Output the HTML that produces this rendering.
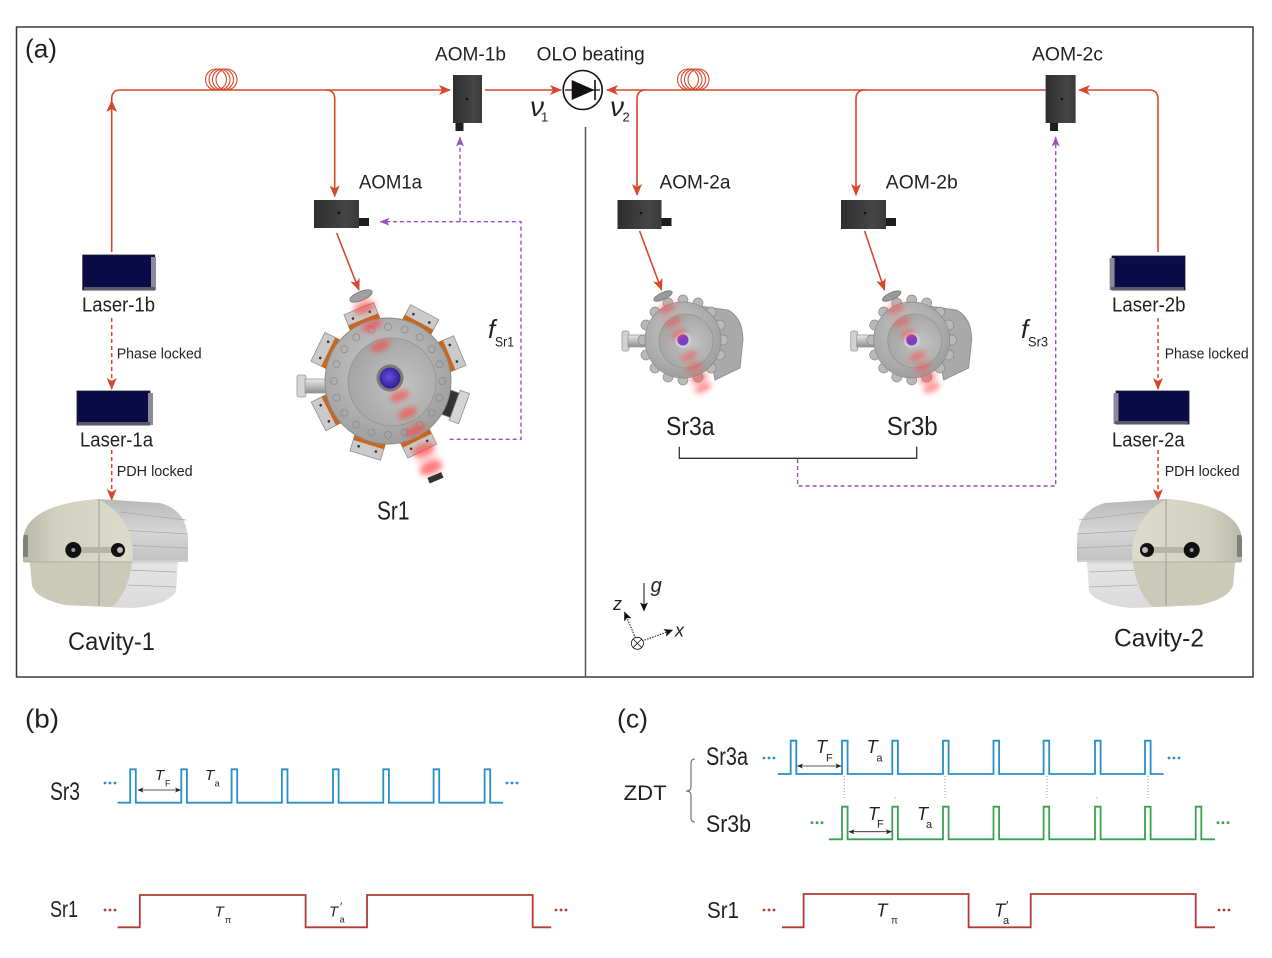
<!DOCTYPE html>
<html><head><meta charset="utf-8"><style>
html,body{margin:0;padding:0;background:#fff;}
svg{display:block;}
text{font-family:"Liberation Sans",sans-serif;fill:#231f20;}
.it{font-style:italic;}
</style></head><body>
<svg width="1272" height="958" viewBox="0 0 1272 958" xmlns="http://www.w3.org/2000/svg">
<defs>
 <marker id="ar" viewBox="0 0 12 10" markerWidth="12" markerHeight="10" refX="11" refY="5" orient="auto" markerUnits="userSpaceOnUse"><path d="M0,0 L12,5 L0,10 L3,5 Z" fill="#d9472b"/></marker>
 <marker id="ap" viewBox="0 0 10 8" markerWidth="10" markerHeight="8" refX="9.5" refY="4" orient="auto" markerUnits="userSpaceOnUse"><path d="M0,0 L10,4 L0,8 L2.5,4 Z" fill="#9b4fb8"/></marker>
 <marker id="ak" viewBox="0 0 6 5" markerWidth="6" markerHeight="5" refX="5.5" refY="2.5" orient="auto-start-reverse" markerUnits="userSpaceOnUse"><path d="M0,0 L6,2.5 L0,5 L1.5,2.5 Z" fill="#222"/></marker>
 <marker id="ax" viewBox="0 0 9 8" markerWidth="9" markerHeight="8" refX="8.5" refY="4" orient="auto" markerUnits="userSpaceOnUse"><path d="M0,0 L9,4 L0,8 L2,4 Z" fill="#111"/></marker>
 <filter id="bl" x="-50%" y="-50%" width="200%" height="200%"><feGaussianBlur stdDeviation="2.6"/></filter>
 <filter id="bl2" x="-50%" y="-50%" width="200%" height="200%"><feGaussianBlur stdDeviation="4"/></filter>
 <radialGradient id="diskG" cx="0.45" cy="0.4" r="0.65"><stop offset="0" stop-color="#c9c9c9"/><stop offset="1" stop-color="#9c9c9c"/></radialGradient>
 <radialGradient id="recG" cx="0.6" cy="0.55" r="0.6"><stop offset="0" stop-color="#c4c4c4"/><stop offset="1" stop-color="#a4a4a4"/></radialGradient>
 <radialGradient id="winG" cx="0.45" cy="0.45" r="0.6"><stop offset="0" stop-color="#6a4ee0"/><stop offset="1" stop-color="#2a1a8a"/></radialGradient>
 <linearGradient id="tubeG" x1="0" y1="0" x2="0" y2="1"><stop offset="0" stop-color="#e8e8e8"/><stop offset="0.5" stop-color="#bdbdbd"/><stop offset="1" stop-color="#8d8d8d"/></linearGradient>
 <linearGradient id="cavB" x1="0" y1="0" x2="0" y2="1"><stop offset="0" stop-color="#b8b8b8"/><stop offset="0.3" stop-color="#d6d6d6"/><stop offset="0.55" stop-color="#c2c2c2"/><stop offset="0.6" stop-color="#e4e4e4"/><stop offset="1" stop-color="#dadada"/></linearGradient>
 <linearGradient id="cavF" x1="0" y1="0" x2="1" y2="0"><stop offset="0" stop-color="#b9b8aa"/><stop offset="0.3" stop-color="#d2d0c0"/><stop offset="1" stop-color="#dddbcc"/></linearGradient>
 <linearGradient id="aomG" x1="0" y1="0" x2="1" y2="0"><stop offset="0" stop-color="#2e2e2e"/><stop offset="0.7" stop-color="#454545"/><stop offset="1" stop-color="#3a3a3a"/></linearGradient>
 <clipPath id="cf1"><path d="M23,562 L23,540 Q25,505 98,499 Q130,515 133,552 Q131,590 112,607 L65,605 Q35,598 32,585 L30,562 Z"/></clipPath>

 <g id="cav">
  <path d="M23,562 L23,540 Q25,505 98,499 L160,503 Q187,510 188,540 L188,562 L178,562 L176,592 Q165,606 132,608 L65,605 Q35,598 32,585 L30,562 Z" fill="url(#cavB)"/>
  <path d="M120,512 L186,520 M118,530 L188,534 M122,545 L188,548 M125,570 L176,572 M128,585 L176,587" stroke="#a8a8a8" stroke-width="0.8" fill="none"/>
  <path d="M23,562 L23,540 Q25,505 98,499 Q130,515 133,552 Q131,590 112,607 L65,605 Q35,598 32,585 L30,562 Z" fill="url(#cavF)"/>
  <g clip-path="url(#cf1)"><rect x="20" y="562" width="120" height="50" fill="#cbc9b8"/><rect x="20" y="535" width="8" height="22" fill="#5a5a56" opacity="0.6"/></g>
  <line x1="99" y1="499" x2="99" y2="606" stroke="#9e9c8c" stroke-width="1"/>
  <line x1="24" y1="562" x2="132" y2="562" stroke="#a9a795" stroke-width="0.8"/>
  <rect x="74" y="547" width="44" height="6" fill="#b5b4a6"/>
  <circle cx="73.3" cy="550" r="8" fill="#111"/><circle cx="73.3" cy="550" r="2" fill="#999"/>
  <circle cx="118" cy="550" r="7" fill="#111"/><circle cx="120" cy="550" r="3" fill="#bbb"/>
 </g>

 <g id="sr3">
  <line x1="663" y1="300" x2="703" y2="387" stroke="#ff7070" stroke-width="12" opacity="0.3" filter="url(#bl2)"/>
  <rect x="622" y="331" width="7" height="20" rx="2" fill="#d2d2d2" stroke="#999" stroke-width="0.8"/>
  <rect x="628" y="335" width="20" height="12" fill="url(#tubeG)" stroke="#999" stroke-width="0.8"/>
  <path d="M700,306 L728,310 Q743,318 743,340 L740,368 L715,380 Z" fill="#a9a9a9" stroke="#8a8a8a" stroke-width="0.8"/>
  <g fill="#b9b9b9" stroke="#8a8a8a" stroke-width="0.7">
   <circle cx="723" cy="340" r="5"/><circle cx="720" cy="355" r="5"/><circle cx="711" cy="368" r="5"/><circle cx="698" cy="377" r="5"/><circle cx="683" cy="380" r="5"/><circle cx="668" cy="377" r="5"/><circle cx="655" cy="368" r="5"/><circle cx="646" cy="355" r="5"/><circle cx="643" cy="340" r="5"/><circle cx="646" cy="325" r="5"/><circle cx="655" cy="312" r="5"/><circle cx="668" cy="303" r="5"/><circle cx="683" cy="300" r="5"/><circle cx="698" cy="303" r="5"/><circle cx="711" cy="312" r="5"/><circle cx="720" cy="325" r="5"/>
  </g>
  <circle cx="683" cy="340" r="38" fill="url(#diskG)" stroke="#8d8d8d" stroke-width="0.8"/>
  <circle cx="686" cy="341" r="27" fill="url(#recG)" stroke="#959595" stroke-width="0.8"/>
  <circle cx="683" cy="340" r="8" fill="#cfcfcf"/>
  <circle cx="683" cy="340" r="5.5" fill="#7a3ec8"/>
  <g fill="#ff4a4a" opacity="0.55" filter="url(#bl)">
   <ellipse cx="667" cy="309" rx="9" ry="4" transform="rotate(-24.7 667 309)"/>
   <ellipse cx="673" cy="322" rx="9" ry="4" transform="rotate(-24.7 673 322)"/>
   <ellipse cx="679" cy="334" rx="8" ry="4" transform="rotate(-24.7 679 334)"/>
   <ellipse cx="689" cy="356" rx="9" ry="4" transform="rotate(-24.7 689 356)"/>
   <ellipse cx="694" cy="367" rx="9" ry="4" transform="rotate(-24.7 694 367)"/>
   <ellipse cx="699" cy="378" rx="9" ry="4" transform="rotate(-24.7 699 378)"/>
   <ellipse cx="703" cy="388" rx="9" ry="4" transform="rotate(-24.7 703 388)"/>
  </g>
  <ellipse cx="663" cy="296" rx="10" ry="3.5" fill="#9a9a9a" stroke="#777" stroke-width="0.8" transform="rotate(-24.7 663 296)"/>
 </g>

 <g id="port">
  <rect x="61" y="-16" width="17" height="32" fill="#cacaca" stroke="#8f8f8f" stroke-width="0.8"/>
  <rect x="61.5" y="-16" width="5" height="32" fill="#c8671d"/>
  <circle cx="71" cy="-9" r="1.3" fill="#333"/><circle cx="71" cy="9" r="1.3" fill="#333"/>
 </g>
</defs>

<!-- frame -->
<rect x="16.5" y="27" width="1236.5" height="650" fill="none" stroke="#3a3a3a" stroke-width="1.5"/>
<line x1="585.5" y1="127" x2="585.5" y2="677" stroke="#555" stroke-width="1.5"/>

<!-- red optical paths -->
<g fill="none" stroke="#d9472b" stroke-width="1.6">
 <path d="M111.7,252 V99 Q111.7,90 120,90 H450" marker-end="url(#ar)"/>
 <path d="M326,90 Q334.7,90 334.7,99 V196.5" marker-end="url(#ar)"/>
 <path d="M485,90 H561" marker-end="url(#ar)"/>
 <path d="M1045.6,90 H607" marker-end="url(#ar)"/>
 <path d="M646,90 Q637,90 637,99 V195" marker-end="url(#ar)"/>
 <path d="M865,90 Q856,90 856,99 V195" marker-end="url(#ar)"/>
 <path d="M1158,252 V99 Q1158,90 1149,90 H1079" marker-end="url(#ar)"/>
 <path d="M336.7,233 L359,290" marker-end="url(#ar)"/>
 <path d="M639.6,231 L661.6,290" marker-end="url(#ar)"/>
 <path d="M864.6,231 L884.5,290" marker-end="url(#ar)"/>
 <g stroke-width="1.1">
  <circle cx="216" cy="79.5" r="10.5"/><circle cx="219.5" cy="79.5" r="10.5"/><circle cx="223" cy="79.5" r="10.5"/><circle cx="226.5" cy="79.5" r="10.5"/>
  <circle cx="688" cy="79.5" r="10.5"/><circle cx="691.5" cy="79.5" r="10.5"/><circle cx="695" cy="79.5" r="10.5"/><circle cx="698.5" cy="79.5" r="10.5"/>
 </g>
</g>
<polygon points="111.7,100 106.2,112 111.7,109 117.2,112" fill="#d9472b"/>

<!-- red dashed lock lines -->
<g fill="none" stroke="#d9472b" stroke-width="1.5" stroke-dasharray="4,3">
 <path d="M111.7,318 V389" marker-end="url(#ar)"/>
 <path d="M111.7,450 V500" marker-end="url(#ar)"/>
 <path d="M1158,318 V389" marker-end="url(#ar)"/>
 <path d="M1158,450 V500" marker-end="url(#ar)"/>
</g>

<!-- purple dashed -->
<g fill="none" stroke="#9b4fb8" stroke-width="1.4" stroke-dasharray="4,3">
 <path d="M449.7,439.3 H521 V221.7 H380" marker-end="url(#ap)"/>
 <path d="M460,221.7 V137" marker-end="url(#ap)"/>
 <path d="M797.6,459 V486 H1055.7 V137" marker-end="url(#ap)"/>
</g>

<!-- bracket -->
<path d="M679.3,446.7 V458.3 H916.7 V446.7" fill="none" stroke="#333" stroke-width="1.3"/>

<!-- photodiode -->
<circle cx="582.7" cy="90" r="19.5" fill="#fff" stroke="#111" stroke-width="1.6"/>
<line x1="565" y1="90" x2="600" y2="90" stroke="#111" stroke-width="1.3"/>
<polygon points="571.7,80 571.7,100 594.5,90" fill="#111"/>
<line x1="595" y1="80" x2="595" y2="100" stroke="#111" stroke-width="1.6"/>

<!-- AOMs -->
<g>
 <rect x="453" y="75" width="29" height="48" fill="url(#aomG)"/><rect x="455.5" y="123" width="8" height="8" fill="#1e1e1e"/><circle cx="467" cy="99" r="1.3" fill="#111"/>
 <rect x="1045.6" y="75" width="30" height="48" fill="url(#aomG)"/><rect x="1050" y="123" width="8" height="8" fill="#1e1e1e"/><circle cx="1062" cy="99" r="1.3" fill="#111"/>
 <rect x="314" y="200" width="45" height="28" fill="url(#aomG)"/><rect x="359" y="218" width="10" height="8" fill="#1e1e1e"/><circle cx="338.8" cy="212.7" r="1.3" fill="#111"/>
 <rect x="617.5" y="200" width="44" height="29" fill="url(#aomG)"/><rect x="661.5" y="218" width="10" height="8" fill="#1e1e1e"/><circle cx="641" cy="213" r="1.3" fill="#111"/>
 <rect x="841" y="200" width="45" height="29" fill="url(#aomG)"/><rect x="886" y="218" width="10" height="8" fill="#1e1e1e"/><circle cx="865" cy="213" r="1.3" fill="#111"/>
</g>

<!-- lasers -->
<g stroke="#1a1a2a" stroke-width="0.8">
 <rect x="82.7" y="255" width="72" height="35" fill="#0b0b48"/><rect x="151" y="257" width="5" height="33" fill="#8a8a98" stroke="none"/><rect x="84" y="287" width="71" height="3" fill="#5a5a6a" stroke="none"/>
 <rect x="77" y="391" width="73" height="34" fill="#0b0b48"/><rect x="148" y="393" width="5" height="32" fill="#8a8a98" stroke="none"/><rect x="78" y="422" width="72" height="3" fill="#5a5a6a" stroke="none"/>
 <rect x="1112" y="256" width="73" height="34" fill="#0b0b48"/><rect x="1109.6" y="258" width="5" height="32" fill="#8a8a98" stroke="none"/><rect x="1111" y="287" width="73" height="3" fill="#5a5a6a" stroke="none"/>
 <rect x="1116" y="391" width="73" height="33" fill="#0b0b48"/><rect x="1113.5" y="393" width="5" height="31" fill="#8a8a98" stroke="none"/><rect x="1115" y="421" width="73" height="3" fill="#5a5a6a" stroke="none"/>
</g>

<!-- cavities -->
<use href="#cav"/>
<use href="#cav" transform="translate(1265,0) scale(-1,1)"/>

<!-- Sr1 chamber -->
<g>
 <line x1="360" y1="298" x2="432" y2="470" stroke="#ff6a6a" stroke-width="18" opacity="0.35" filter="url(#bl2)"/>
 <rect x="297" y="375" width="9" height="22" rx="2" fill="#d6d6d6" stroke="#999" stroke-width="0.8"/>
 <rect x="305" y="379" width="30" height="14" fill="url(#tubeG)" stroke="#999" stroke-width="0.8"/>
 <g transform="translate(388,381)">
  <use href="#port" transform="rotate(-112)"/>
  <use href="#port" transform="rotate(-62)"/>
  <use href="#port" transform="rotate(-23)"/>
  <g transform="rotate(20)" stroke="#8f8f8f" stroke-width="0.8"><rect x="60" y="-13" width="12" height="26" fill="#333"/><rect x="71" y="-16" width="10" height="32" fill="#d4d4d4"/></g>
  <use href="#port" transform="rotate(64)"/>
  <use href="#port" transform="rotate(107)"/>
  <use href="#port" transform="rotate(153)"/>
  <use href="#port" transform="rotate(-154)"/>
 </g>
 <circle cx="388" cy="381" r="63" fill="url(#diskG)" stroke="#8a8a8a" stroke-width="0.9"/>
 <g fill="none" stroke="#8d8d8d" stroke-width="0.8">
  <circle cx="442" cy="381" r="3.5"/><circle cx="439.4" cy="397.7" r="3.5"/><circle cx="431.7" cy="412.8" r="3.5"/><circle cx="419.7" cy="424.7" r="3.5"/><circle cx="404.7" cy="432.4" r="3.5"/><circle cx="388" cy="435" r="3.5"/><circle cx="371.3" cy="432.4" r="3.5"/><circle cx="356.3" cy="424.7" r="3.5"/><circle cx="344.3" cy="412.8" r="3.5"/><circle cx="336.6" cy="397.7" r="3.5"/><circle cx="334" cy="381" r="3.5"/><circle cx="336.6" cy="364.3" r="3.5"/><circle cx="344.3" cy="349.2" r="3.5"/><circle cx="356.3" cy="337.3" r="3.5"/><circle cx="371.3" cy="329.6" r="3.5"/><circle cx="388" cy="327" r="3.5"/><circle cx="404.7" cy="329.6" r="3.5"/><circle cx="419.7" cy="337.3" r="3.5"/><circle cx="431.7" cy="349.2" r="3.5"/><circle cx="439.4" cy="364.3" r="3.5"/>
 </g>
 <circle cx="392" cy="382" r="44" fill="url(#recG)" stroke="#949494" stroke-width="0.8"/>
 <circle cx="390" cy="378" r="13.5" fill="#7a7a7a"/>
 <circle cx="390" cy="378" r="10.5" fill="url(#winG)"/>
 <g fill="#ff4040" opacity="0.6" filter="url(#bl)">
  <ellipse cx="364.3" cy="308.3" rx="11" ry="5" transform="rotate(-22.7 364.3 308.3)"/>
  <ellipse cx="371.5" cy="325.5" rx="11" ry="5" transform="rotate(-22.7 371.5 325.5)"/>
  <ellipse cx="380.2" cy="346.2" rx="10" ry="5" transform="rotate(-22.7 380.2 346.2)"/>
  <ellipse cx="399.6" cy="396" rx="10" ry="5" transform="rotate(-22.7 399.6 396)"/>
  <ellipse cx="407.5" cy="413" rx="10" ry="5" transform="rotate(-22.7 407.5 413)"/>
  <ellipse cx="415.4" cy="430.4" rx="11" ry="5" transform="rotate(-22.7 415.4 430.4)"/>
  <ellipse cx="423.4" cy="449.4" rx="12" ry="6" transform="rotate(-22.7 423.4 449.4)"/>
  <ellipse cx="431" cy="468" rx="12" ry="6" transform="rotate(-22.7 431 468)"/>
 </g>
 <ellipse cx="361" cy="296" rx="12" ry="4.5" fill="#a0a0a0" stroke="#777" stroke-width="0.8" transform="rotate(-22.7 361 296)"/>
 <rect x="428" y="475" width="15" height="6" fill="#333" transform="rotate(-22.7 435 478)"/>
</g>

<!-- Sr3 chambers -->
<use href="#sr3"/>
<use href="#sr3" transform="translate(228.7,0)"/>

<!-- axes -->
<g stroke="#111" stroke-width="1" fill="none">
 <line x1="644" y1="583" x2="644" y2="611" marker-end="url(#ax)"/>
 <line x1="635.5" y1="638" x2="624.5" y2="612" stroke-dasharray="1.5,1.2" marker-end="url(#ax)"/>
 <line x1="642" y1="641" x2="672.7" y2="630" stroke-dasharray="1.5,1.2" marker-end="url(#ax)"/>
 <circle cx="637.4" cy="643.3" r="6" fill="#fff" stroke-width="0.8"/>
 <path d="M633.2,639.1 L641.6,647.5 M641.6,639.1 L633.2,647.5" stroke-width="0.8"/>
</g>

<!-- top text -->
<text x="25" y="57.5" font-size="26" textLength="32" lengthAdjust="spacingAndGlyphs">(a)</text>
<g font-size="19">
 <text x="435" y="60.7" textLength="71" lengthAdjust="spacingAndGlyphs">AOM-1b</text>
 <text x="536.7" y="60.7" textLength="108" lengthAdjust="spacingAndGlyphs">OLO beating</text>
 <text x="1032" y="60.7" textLength="71" lengthAdjust="spacingAndGlyphs">AOM-2c</text>
 <text x="359" y="188.3" textLength="63" lengthAdjust="spacingAndGlyphs">AOM1a</text>
 <text x="659.5" y="188.3" textLength="71" lengthAdjust="spacingAndGlyphs">AOM-2a</text>
 <text x="885.8" y="188.3" textLength="72" lengthAdjust="spacingAndGlyphs">AOM-2b</text>
</g>
<g font-size="20">
 <text x="82" y="311.7" textLength="73" lengthAdjust="spacingAndGlyphs">Laser-1b</text>
 <text x="1112" y="311.7" textLength="73.5" lengthAdjust="spacingAndGlyphs">Laser-2b</text>
 <text x="80" y="446.7" textLength="73" lengthAdjust="spacingAndGlyphs">Laser-1a</text>
 <text x="1112" y="446.7" textLength="72.6" lengthAdjust="spacingAndGlyphs">Laser-2a</text>
</g>
<g font-size="15">
 <text x="116.7" y="358.3" textLength="85" lengthAdjust="spacingAndGlyphs">Phase locked</text>
 <text x="1164.7" y="358.3" textLength="84" lengthAdjust="spacingAndGlyphs">Phase locked</text>
 <text x="116.7" y="476" textLength="76" lengthAdjust="spacingAndGlyphs">PDH locked</text>
 <text x="1164.7" y="476" textLength="75" lengthAdjust="spacingAndGlyphs">PDH locked</text>
</g>
<text x="68" y="650" font-size="25" textLength="87" lengthAdjust="spacingAndGlyphs">Cavity-1</text>
<text x="1114" y="646.5" font-size="25" textLength="90" lengthAdjust="spacingAndGlyphs">Cavity-2</text>
<g font-size="26">
 <text x="377" y="519.5" textLength="32.5" lengthAdjust="spacingAndGlyphs">Sr1</text>
 <text x="666" y="435" textLength="48.6" lengthAdjust="spacingAndGlyphs">Sr3a</text>
 <text x="886.7" y="435" textLength="51" lengthAdjust="spacingAndGlyphs">Sr3b</text>
</g>
<text class="it" x="488" y="338" font-size="26">f</text>
<text x="495" y="346.7" font-size="14" textLength="19" lengthAdjust="spacingAndGlyphs">Sr1</text>
<text class="it" x="1021" y="338" font-size="26">f</text>
<text x="1028" y="346.7" font-size="14" textLength="20" lengthAdjust="spacingAndGlyphs">Sr3</text>
<text class="it" x="530" y="116" font-size="28">ν</text>
<text x="541" y="121.7" font-size="13">1</text>
<text class="it" x="610" y="116" font-size="28">ν</text>
<text x="622.5" y="121.7" font-size="13">2</text>
<text class="it" x="650.6" y="592" font-size="20">g</text>
<text class="it" x="613" y="610" font-size="18">z</text>
<text class="it" x="675" y="636.7" font-size="18">x</text>

<!-- panel b -->
<text x="25" y="727.5" font-size="26" textLength="34" lengthAdjust="spacingAndGlyphs">(b)</text>
<text x="50" y="800" font-size="25" textLength="30" lengthAdjust="spacingAndGlyphs">Sr3</text>
<text x="50" y="917" font-size="23" textLength="28" lengthAdjust="spacingAndGlyphs">Sr1</text>
<g fill="none" stroke-width="1.8">
 <path stroke="#2a8fc6" d="M117.6,802.7 H130.2 V769.3 H135.8 V802.7 H181.3 V769.3 H186.9 V802.7 H231.6 V769.3 H237.2 V802.7 H281.9 V769.3 H287.5 V802.7 H333 V769.3 H338.6 V802.7 H383.3 V769.3 H388.9 V802.7 H433.6 V769.3 H439.2 V802.7 H484.6 V769.3 H490.2 V802.7 H503"/>
 <path stroke="#b23a36" d="M117.6,927.3 H139.8 V895 H305.6 V927.3 H367 V895 H532.7 V927.3 H551.2"/>
</g>
<g fill="#2a8fc6"><circle cx="105" cy="783" r="1.4"/><circle cx="110" cy="783" r="1.4"/><circle cx="115" cy="783" r="1.4"/><circle cx="507" cy="783" r="1.4"/><circle cx="512" cy="783" r="1.4"/><circle cx="517" cy="783" r="1.4"/></g>
<g fill="#b23a36"><circle cx="105" cy="910" r="1.4"/><circle cx="110" cy="910" r="1.4"/><circle cx="115" cy="910" r="1.4"/><circle cx="556" cy="910" r="1.4"/><circle cx="561" cy="910" r="1.4"/><circle cx="566" cy="910" r="1.4"/></g>
<path d="M138,790 H180.5" stroke="#222" stroke-width="0.8" marker-start="url(#ak)" marker-end="url(#ak)"/>
<text class="it" x="155" y="780" font-size="15">T</text><text x="165" y="786.7" font-size="9">F</text>
<text class="it" x="205" y="780" font-size="15">T</text><text x="214.6" y="786.7" font-size="9">a</text>
<text class="it" x="214.6" y="916.7" font-size="15">T</text><text x="225" y="923" font-size="9">π</text>
<text class="it" x="329" y="916.7" font-size="15">T</text><text x="340" y="911" font-size="12">′</text><text x="339.6" y="922.7" font-size="9">a</text>

<!-- panel c -->
<text x="617" y="727.5" font-size="26" textLength="31" lengthAdjust="spacingAndGlyphs">(c)</text>
<text x="706" y="765" font-size="25" textLength="42" lengthAdjust="spacingAndGlyphs">Sr3a</text>
<text x="623.6" y="800" font-size="21" textLength="43" lengthAdjust="spacingAndGlyphs">ZDT</text>
<text x="706" y="832" font-size="24" textLength="45" lengthAdjust="spacingAndGlyphs">Sr3b</text>
<text x="707" y="918" font-size="23" textLength="32" lengthAdjust="spacingAndGlyphs">Sr1</text>
<path d="M695,759 Q691,759 691,763 L691,787 Q691,791 686,791 Q691,791 691,795 L691,818 Q691,822 695,822" fill="none" stroke="#666" stroke-width="1.1"/>
<g stroke="#9a9a9a" stroke-width="0.9" stroke-dasharray="1,2">
 <line x1="844.3" y1="776" x2="844.3" y2="799"/><line x1="945" y1="776" x2="945" y2="799"/><line x1="1047" y1="776" x2="1047" y2="799"/><line x1="1148" y1="776" x2="1148" y2="799"/>
</g>
<g fill="#aaa"><circle cx="895" cy="798" r="0.7"/><circle cx="1097" cy="798" r="0.7"/></g>
<g fill="none" stroke-width="1.8">
 <path stroke="#2a8fc6" d="M778,774 H790.7 V740.7 H796.3 V774 H842 V740.7 H847.6 V774 H892.3 V740.7 H897.9 V774 H943 V740.7 H948.6 V774 H993.5 V740.7 H999.1 V774 H1043.6 V740.7 H1049.2 V774 H1095 V740.7 H1100.6 V774 H1145 V740.7 H1150.6 V774 H1163.6"/>
 <path stroke="#3aa150" d="M829,839.3 H842 V806.7 H847.6 V839.3 H892.3 V806.7 H897.9 V839.3 H943 V806.7 H948.6 V839.3 H993.5 V806.7 H999.1 V839.3 H1043.6 V806.7 H1049.2 V839.3 H1095 V806.7 H1100.6 V839.3 H1145 V806.7 H1150.6 V839.3 H1195.7 V806.7 H1201.3 V839.3 H1215"/>
 <path stroke="#b23a36" d="M782,927.3 H803.6 V894 H968.6 V927.3 H1030.7 V894 H1195.7 V927.3 H1215"/>
</g>
<g fill="#2a8fc6"><circle cx="764" cy="758" r="1.4"/><circle cx="769" cy="758" r="1.4"/><circle cx="774" cy="758" r="1.4"/><circle cx="1169" cy="758" r="1.4"/><circle cx="1174" cy="758" r="1.4"/><circle cx="1179" cy="758" r="1.4"/></g>
<g fill="#3aa150"><circle cx="812" cy="822.7" r="1.4"/><circle cx="817" cy="822.7" r="1.4"/><circle cx="822" cy="822.7" r="1.4"/><circle cx="1218" cy="822.7" r="1.4"/><circle cx="1223" cy="822.7" r="1.4"/><circle cx="1228" cy="822.7" r="1.4"/></g>
<g fill="#b23a36"><circle cx="764" cy="910" r="1.4"/><circle cx="769" cy="910" r="1.4"/><circle cx="774" cy="910" r="1.4"/><circle cx="1219" cy="910" r="1.4"/><circle cx="1224" cy="910" r="1.4"/><circle cx="1229" cy="910" r="1.4"/></g>
<path d="M797.5,766 H841" stroke="#222" stroke-width="0.8" marker-start="url(#ak)" marker-end="url(#ak)"/>
<path d="M849,831.7 H891.4" stroke="#222" stroke-width="0.8" marker-start="url(#ak)" marker-end="url(#ak)"/>
<text class="it" x="816" y="753" font-size="18">T</text><text x="826" y="761.7" font-size="11">F</text>
<text class="it" x="866.6" y="753" font-size="18">T</text><text x="876.4" y="761.7" font-size="11">a</text>
<text class="it" x="868" y="820" font-size="18">T</text><text x="877" y="827.3" font-size="11">F</text>
<text class="it" x="917" y="820" font-size="18">T</text><text x="926" y="828" font-size="11">a</text>
<text class="it" x="876.4" y="916.7" font-size="18">T</text><text x="891" y="923.5" font-size="10">π</text>
<text class="it" x="994.3" y="916.7" font-size="18">T</text><text x="1006" y="910" font-size="13">′</text><text x="1003" y="924" font-size="11">a</text>
</svg>
</body></html>
